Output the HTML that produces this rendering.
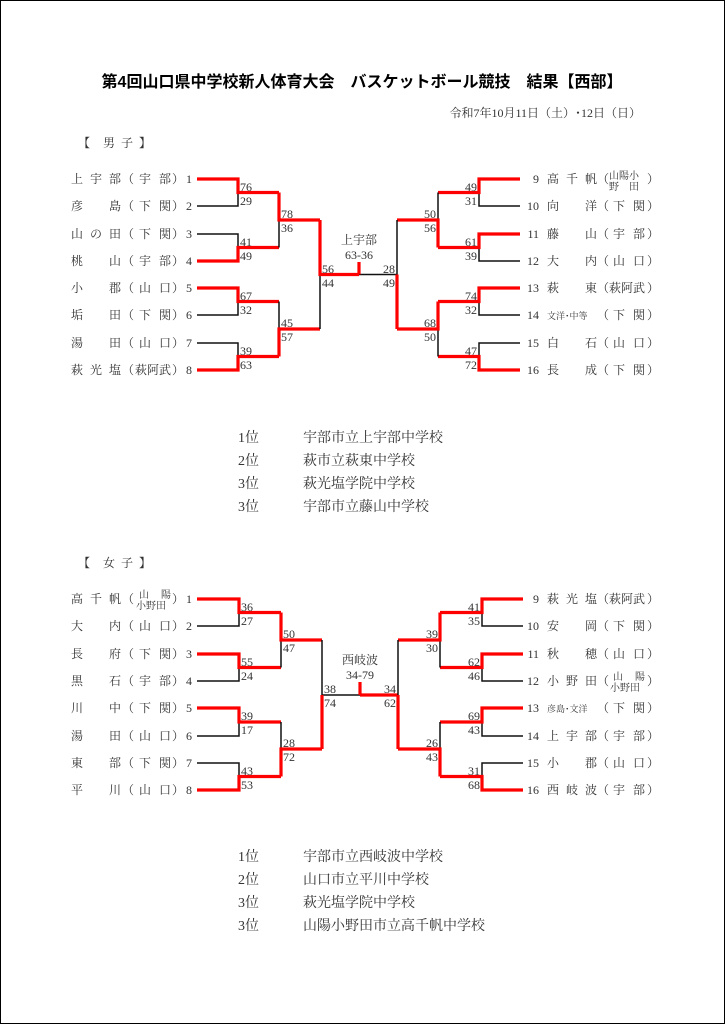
<!DOCTYPE html>
<html><head><meta charset="utf-8"><style>
html,body{margin:0;padding:0;background:#fff}
svg{display:block}
text{font-family:"Liberation Serif","Noto Serif CJK JP","Noto Serif CJK SC",serif;fill:#333}
.l{font-size:12px}
.s{font-size:12px;fill:#444}
.k{fill:none;stroke:#111;stroke-width:1.5}
.r{fill:none;stroke:#f00;stroke-width:3.2}
</style></head><body>
<svg width="725" height="1024" viewBox="0 0 725 1024" xmlns="http://www.w3.org/2000/svg">
<rect x="0.5" y="0.5" width="724" height="1023" fill="#fff" stroke="#000" stroke-width="1"/>
<text x="362" y="87" text-anchor="middle" style="font-family:'Liberation Sans','Noto Sans CJK JP',sans-serif;font-size:16px;font-weight:bold;fill:#000">第4回山口県中学校新人体育大会　バスケットボール競技　結果【西部】</text>
<text x="641" y="117" text-anchor="end" style="font-size:12px">令和7年10月11日（土）･12日（日）</text>
<text x="78 103 121 139" y="147" style="font-size:12px" fill="#000">【男子】</text>
<text x="78 103 121 139" y="567" style="font-size:12px" fill="#000">【女子】</text>

<!-- BOYS lines -->
<g>
<path class="k" d="M197 206H238V192.5"/><path class="r" d="M197 179H238V192.5H279"/>
<path class="k" d="M197 234H238V247.5"/><path class="r" d="M197 261H238V247.5H279"/>
<path class="k" d="M197 315H238V301.5"/><path class="r" d="M197 288H238V301.5H279"/>
<path class="k" d="M197 343H238V356.5"/><path class="r" d="M197 370H238V356.5H279"/>
<path class="k" d="M279 247.5V220"/><path class="r" d="M279 192.5V220H320"/>
<path class="k" d="M279 301.5V329"/><path class="r" d="M279 356.5V329H320"/>
<path class="k" d="M320 329V274.5"/><path class="r" d="M320 220V274.5H359"/>
<path class="k" d="M397 274.5H359"/>
<path class="r" d="M359 262V274.5"/>
<path class="k" d="M520 206H479V192.5"/><path class="r" d="M520 179H479V192.5H438"/>
<path class="k" d="M520 261H479V247.5"/><path class="r" d="M520 234H479V247.5H438"/>
<path class="k" d="M520 315H479V301.5"/><path class="r" d="M520 288H479V301.5H438"/>
<path class="k" d="M520 343H479V356.5"/><path class="r" d="M520 370H479V356.5H438"/>
<path class="k" d="M438 192.5V220"/><path class="r" d="M438 247.5V220H397"/>
<path class="k" d="M438 356.5V329"/><path class="r" d="M438 301.5V329H397"/>
<path class="k" d="M397 220V274.5"/><path class="r" d="M397 329V274.5"/>
</g>
<!-- BOYS scores -->
<g class="s">
<text x="240" y="191">76</text><text x="240" y="205">29</text>
<text x="240" y="246">41</text><text x="240" y="260">49</text>
<text x="240" y="300">67</text><text x="240" y="314">32</text>
<text x="240" y="355">39</text><text x="240" y="369">63</text>
<text x="281" y="218">78</text><text x="281" y="232">36</text>
<text x="281" y="327">45</text><text x="281" y="341">57</text>
<text x="322" y="273">56</text><text x="322" y="287">44</text>
<g text-anchor="end">
<text x="477" y="191">49</text><text x="477" y="205">31</text>
<text x="477" y="246">61</text><text x="477" y="260">39</text>
<text x="477" y="300">74</text><text x="477" y="314">32</text>
<text x="477" y="355">47</text><text x="477" y="369">72</text>
<text x="436" y="218">50</text><text x="436" y="232">56</text>
<text x="436" y="327">68</text><text x="436" y="341">50</text>
<text x="395" y="273">28</text><text x="395" y="287">49</text>
</g>
<text x="359" y="244" text-anchor="middle">上宇部</text>
<text x="359" y="259" text-anchor="middle">63-36</text>
</g>
<!-- BOYS labels left -->
<g class="l">
<text x="71 90 109 122 139 159 172 186" y="183">上宇部（宇部）1</text>
<text x="71 109 122 139 159 172 186" y="210">彦島（下関）2</text>
<text x="71 90 109 122 139 159 172 186" y="238">山の田（下関）3</text>
<text x="71 109 122 139 159 172 186" y="265">桃山（宇部）4</text>
<text x="71 109 122 139 159 172 186" y="292">小郡（山口）5</text>
<text x="71 109 122 139 159 172 186" y="319">垢田（下関）6</text>
<text x="71 109 122 139 159 172 186" y="347">湯田（山口）7</text>
<text x="71 90 109 122 135 147 159 172 186" y="374">萩光塩（萩阿武）8</text>
</g>
<!-- BOYS labels right -->
<g class="l">
<text x="539" y="183" text-anchor="end">9</text><text x="547 566 585 597" y="183">高千帆（</text>
<text x="609" y="179" style="font-size:10px">山陽小</text><text x="609" y="190" style="font-size:10px">野　田</text><text x="647" y="183">）</text>
<text x="539" y="210" text-anchor="end">10</text><text x="547 585 597 613 633 647" y="210">向洋（下関）</text>
<text x="539" y="238" text-anchor="end">11</text><text x="547 585 597 613 633 647" y="238">藤山（宇部）</text>
<text x="539" y="265" text-anchor="end">12</text><text x="547 585 597 613 633 647" y="265">大内（山口）</text>
<text x="539" y="292" text-anchor="end">13</text><text x="547 585 597 609 621 633 647" y="292">萩東（萩阿武）</text>
<text x="539" y="319" text-anchor="end">14</text><text x="547" y="319" style="font-size:9px">文洋･中等</text><text x="597 613 633 647" y="319">（下関）</text>
<text x="539" y="347" text-anchor="end">15</text><text x="547 585 597 613 633 647" y="347">白石（山口）</text>
<text x="539" y="374" text-anchor="end">16</text><text x="547 585 597 613 633 647" y="374">長成（下関）</text>
</g>
<!-- BOYS results -->
<g style="font-size:14px">
<text x="238" y="442">1位</text><text x="303" y="442">宇部市立上宇部中学校</text>
<text x="238" y="465">2位</text><text x="303" y="465">萩市立萩東中学校</text>
<text x="238" y="488">3位</text><text x="303" y="488">萩光塩学院中学校</text>
<text x="238" y="511">3位</text><text x="303" y="511">宇部市立藤山中学校</text>
</g>

<!-- GIRLS lines -->
<g>
<path class="k" d="M197 626H239V612.5"/><path class="r" d="M197 599H239V612.5H281"/>
<path class="k" d="M197 681H239V667.5"/><path class="r" d="M197 654H239V667.5H281"/>
<path class="k" d="M197 736H239V722"/><path class="r" d="M197 708H239V722H281"/>
<path class="k" d="M197 763H239V776.5"/><path class="r" d="M197 790H239V776.5H281"/>
<path class="k" d="M281 667.5V640"/><path class="r" d="M281 612.5V640H322"/>
<path class="k" d="M281 722V749"/><path class="r" d="M281 776.5V749H322"/>
<path class="k" d="M322 640V695H360"/><path class="r" d="M322 749V695"/>
<path class="r" d="M398 695H360"/>
<path class="r" d="M360 682V695"/>
<path class="k" d="M523 626H482V612.5"/><path class="r" d="M523 599H482V612.5H440"/>
<path class="k" d="M523 681H482V667.5"/><path class="r" d="M523 654H482V667.5H440"/>
<path class="k" d="M523 736H482V722"/><path class="r" d="M523 708H482V722H440"/>
<path class="k" d="M523 763H482V776.5"/><path class="r" d="M523 790H482V776.5H440"/>
<path class="k" d="M440 667.5V640"/><path class="r" d="M440 612.5V640H398"/>
<path class="k" d="M440 722V749"/><path class="r" d="M440 776.5V749H398"/>
<path class="k" d="M398 640V695"/><path class="r" d="M398 749V695"/>
</g>
<!-- GIRLS scores -->
<g class="s">
<text x="241" y="611">36</text><text x="241" y="625">27</text>
<text x="241" y="666">55</text><text x="241" y="680">24</text>
<text x="241" y="720">39</text><text x="241" y="734">17</text>
<text x="241" y="775">43</text><text x="241" y="789">53</text>
<text x="283" y="638">50</text><text x="283" y="652">47</text>
<text x="283" y="747">28</text><text x="283" y="761">72</text>
<text x="324" y="693">38</text><text x="324" y="707">74</text>
<g text-anchor="end">
<text x="480" y="611">41</text><text x="480" y="625">35</text>
<text x="480" y="666">62</text><text x="480" y="680">46</text>
<text x="480" y="720">69</text><text x="480" y="734">43</text>
<text x="480" y="775">31</text><text x="480" y="789">68</text>
<text x="438" y="638">39</text><text x="438" y="652">30</text>
<text x="438" y="747">26</text><text x="438" y="761">43</text>
<text x="396" y="693">34</text><text x="396" y="707">62</text>
</g>
<text x="360" y="664" text-anchor="middle">西岐波</text>
<text x="360" y="679" text-anchor="middle">34-79</text>
</g>
<!-- GIRLS labels left -->
<g class="l">
<text x="71 90 109 122" y="603">高千帆（</text>
<text x="139 161" y="598" style="font-size:10px">山陽</text><text x="136" y="609" style="font-size:10px">小野田</text>
<text x="172 186" y="603">）1</text>
<text x="71 109 122 139 159 172 186" y="630">大内（山口）2</text>
<text x="71 109 122 139 159 172 186" y="658">長府（下関）3</text>
<text x="71 109 122 139 159 172 186" y="685">黒石（宇部）4</text>
<text x="71 109 122 139 159 172 186" y="712">川中（下関）5</text>
<text x="71 109 122 139 159 172 186" y="740">湯田（山口）6</text>
<text x="71 109 122 139 159 172 186" y="767">東部（下関）7</text>
<text x="71 109 122 139 159 172 186" y="794">平川（山口）8</text>
</g>
<!-- GIRLS labels right -->
<g class="l">
<text x="539" y="603" text-anchor="end">9</text><text x="547 566 585 597 609 621 633 647" y="603">萩光塩（萩阿武）</text>
<text x="539" y="630" text-anchor="end">10</text><text x="547 585 597 613 633 647" y="630">安岡（下関）</text>
<text x="539" y="658" text-anchor="end">11</text><text x="547 585 597 613 633 647" y="658">秋穂（山口）</text>
<text x="539" y="685" text-anchor="end">12</text><text x="547 566 585 597" y="685">小野田（</text>
<text x="613 635" y="680" style="font-size:10px">山陽</text><text x="610" y="691" style="font-size:10px">小野田</text><text x="647" y="685">）</text>
<text x="539" y="712" text-anchor="end">13</text><text x="547" y="712" style="font-size:9px">彦島･文洋</text><text x="597 613 633 647" y="712">（下関）</text>
<text x="539" y="740" text-anchor="end">14</text><text x="547 566 585 597 613 633 647" y="740">上宇部（宇部）</text>
<text x="539" y="767" text-anchor="end">15</text><text x="547 585 597 613 633 647" y="767">小郡（山口）</text>
<text x="539" y="794" text-anchor="end">16</text><text x="547 566 585 597 613 633 647" y="794">西岐波（宇部）</text>
</g>
<!-- GIRLS results -->
<g style="font-size:14px">
<text x="238" y="861">1位</text><text x="303" y="861">宇部市立西岐波中学校</text>
<text x="238" y="884">2位</text><text x="303" y="884">山口市立平川中学校</text>
<text x="238" y="907">3位</text><text x="303" y="907">萩光塩学院中学校</text>
<text x="238" y="930">3位</text><text x="303" y="930">山陽小野田市立高千帆中学校</text>
</g>
</svg>
</body></html>
